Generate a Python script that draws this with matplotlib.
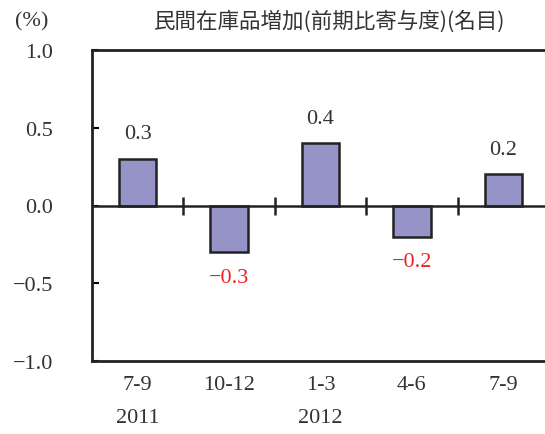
import numpy as np
import matplotlib.pyplot as plt

quarters = ["7-9\n2011", "10-12", "1-3\n2012", "4-6", "7-9"]
values = [0.3, -0.3, 0.4, -0.2, 0.2]
y_ticks = [1.0, 0.5, 0.0, -0.5, -1.0]

num_font = ["Liberation Serif", "DejaVu Serif"]
bar_color = "#9593c8"

fig = plt.figure(figsize=(5.45, 4.35), dpi=100)
ax = fig.add_axes([92/545, 73/435, 457/545, 311/435])

x = np.arange(len(values))
ax.bar(x, values, width=0.41, color=bar_color, edgecolor="#222222", linewidth=1.8, zorder=3)

# zero line with category separators
ax.axhline(0, color="#222222", linewidth=1.8, zorder=4)
bounds = x[:-1] + 0.5
ax.plot(bounds, np.zeros_like(bounds), "|", color="#222222", ms=13, mew=1.8, zorder=4)

for xi, v in zip(x, values):
    if v >= 0:
        ax.text(xi, v + 0.1, f"{v:.1f}", ha="center", va="bottom", fontsize=16,
                family=num_font, color="#333333")
    else:
        ax.text(xi, v - 0.1, f"{v:.1f}".replace("-", "\u2212"), ha="center", va="top",
                fontsize=16, family=num_font, color="#ee2222")

ax.set_xlim(-0.5, len(values) - 0.5)
ax.set_ylim(-1.0, 1.0)
ax.set_yticks(y_ticks)
ax.set_yticklabels([f"{t:.1f}".replace("-", "\u2212") for t in y_ticks], family=num_font, fontsize=16, color="#333333")
ax.set_xticks(x)
ax.set_xticklabels(quarters, family=num_font, fontsize=16, color="#333333", linespacing=2.0, va="top")
ax.tick_params(axis="y", direction="in", length=5, width=1.5, pad=28)
ax.tick_params(axis="x", length=0, pad=10)

for s in ax.spines.values():
    s.set_linewidth(2)
    s.set_color("#222222")

fig.text(15/545, 1 - 22/435, "(%)", ha="left", va="center", fontsize=16, family=num_font, color="#333333")
fig.text(330/545, 1 - 22/435, "民間在庫品増加(前期比寄与度)(名目)", ha="center", va="center",
         fontsize=15.5, family=["Noto Sans CJK JP", "DejaVu Sans"], color="#333333")

fig.savefig("out.png", dpi=100)
